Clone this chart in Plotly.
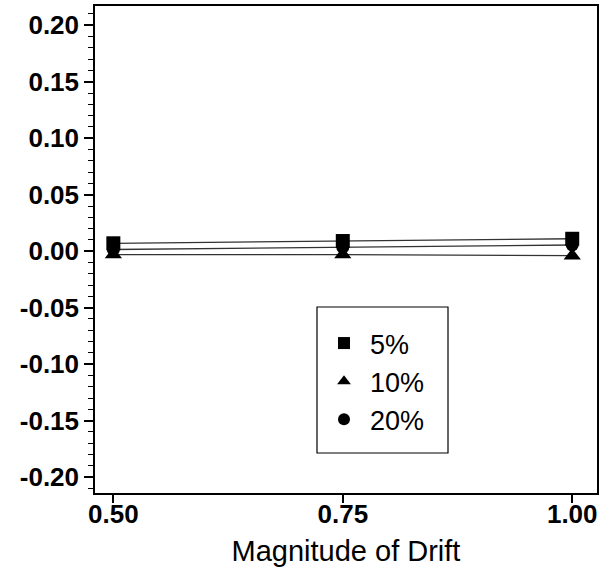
import plotly.graph_objects as go

drift = [0.50, 0.75, 1.00]
series_names = ["5%", "10%", "20%"]
val_5 = [0.007, 0.009, 0.011]
val_10 = [-0.003, -0.003, -0.004]
val_20 = [0.0015, 0.0035, 0.0055]

x_tickvals = [0.50, 0.75, 1.00]
x_ticktext = ["0.50", "0.75", "1.00"]
y_tickvals = [0.20, 0.15, 0.10, 0.05, 0.00, -0.05, -0.10, -0.15, -0.20]
y_ticktext = ["0.20", "0.15", "0.10", "0.05", "0.00", "-0.05", "-0.10", "-0.15", "-0.20"]

FONT = "Liberation Sans, Arial, sans-serif"

fig = go.Figure()
styles = [("square", 14), ("triangle-up", 15), ("circle", 13)]
data = [val_5, val_10, val_20]

# connecting lines (no legend)
for i in range(3):
    fig.add_trace(go.Scatter(
        x=drift, y=data[i], mode="lines", showlegend=False, hoverinfo="skip",
        line=dict(color="#333333", width=1.3),
    ))
# markers: circle first so square/triangle are on top
for i in [2, 1, 0]:
    sym, sz = styles[i]
    fig.add_trace(go.Scatter(
        x=drift, y=data[i], name=series_names[i], mode="markers",
        marker=dict(symbol=sym, size=sz, color="black", line=dict(width=0)),
        legendrank=i + 1,
    ))

axis_common = dict(
    showline=True, linecolor="black", linewidth=1.5, mirror=True,
    ticks="outside", tickcolor="black", tickwidth=1.5,
    showgrid=False, zeroline=False, automargin=False,
    tickfont=dict(family=FONT, size=26, color="black", weight="bold"),
)

fig.update_xaxes(
    range=[0.480, 1.027], tickvals=x_tickvals, ticktext=x_ticktext, ticklen=8,
    ticklabelstandoff=-11,
    title=dict(text="Magnitude of Drift", font=dict(family=FONT, size=29, color="black"), standoff=13),
    **axis_common,
)
fig.update_yaxes(
    range=[-0.214, 0.217], tickvals=y_tickvals, ticktext=y_ticktext, ticklen=9,
    minor=dict(ticks="outside", dtick=0.01, tick0=0, ticklen=5, tickcolor="black", tickwidth=1.2),
    **axis_common,
)

fig.add_shape(type="rect", xref="paper", yref="paper",
              x0=(317 - 95) / 502, x1=(448 - 95) / 502,
              y0=(493 - 453) / 487, y1=(493 - 307) / 487,
              line=dict(color="black", width=1.2), fillcolor="rgba(0,0,0,0)", layer="above")

fig.update_layout(
    width=610, height=574,
    margin=dict(l=95, r=13, t=6, b=81),
    plot_bgcolor="white", paper_bgcolor="white",
    showlegend=True,
    legend=dict(
        x=(318 - 95) / 502, y=(493 - 319) / 487, xanchor="left", yanchor="top",
        bgcolor="rgba(0,0,0,0)", borderwidth=0,
        font=dict(family=FONT, size=27, color="black"),
        traceorder="normal", itemsizing="constant", itemwidth=42,
    ),
)

fig.write_html("out.html")
